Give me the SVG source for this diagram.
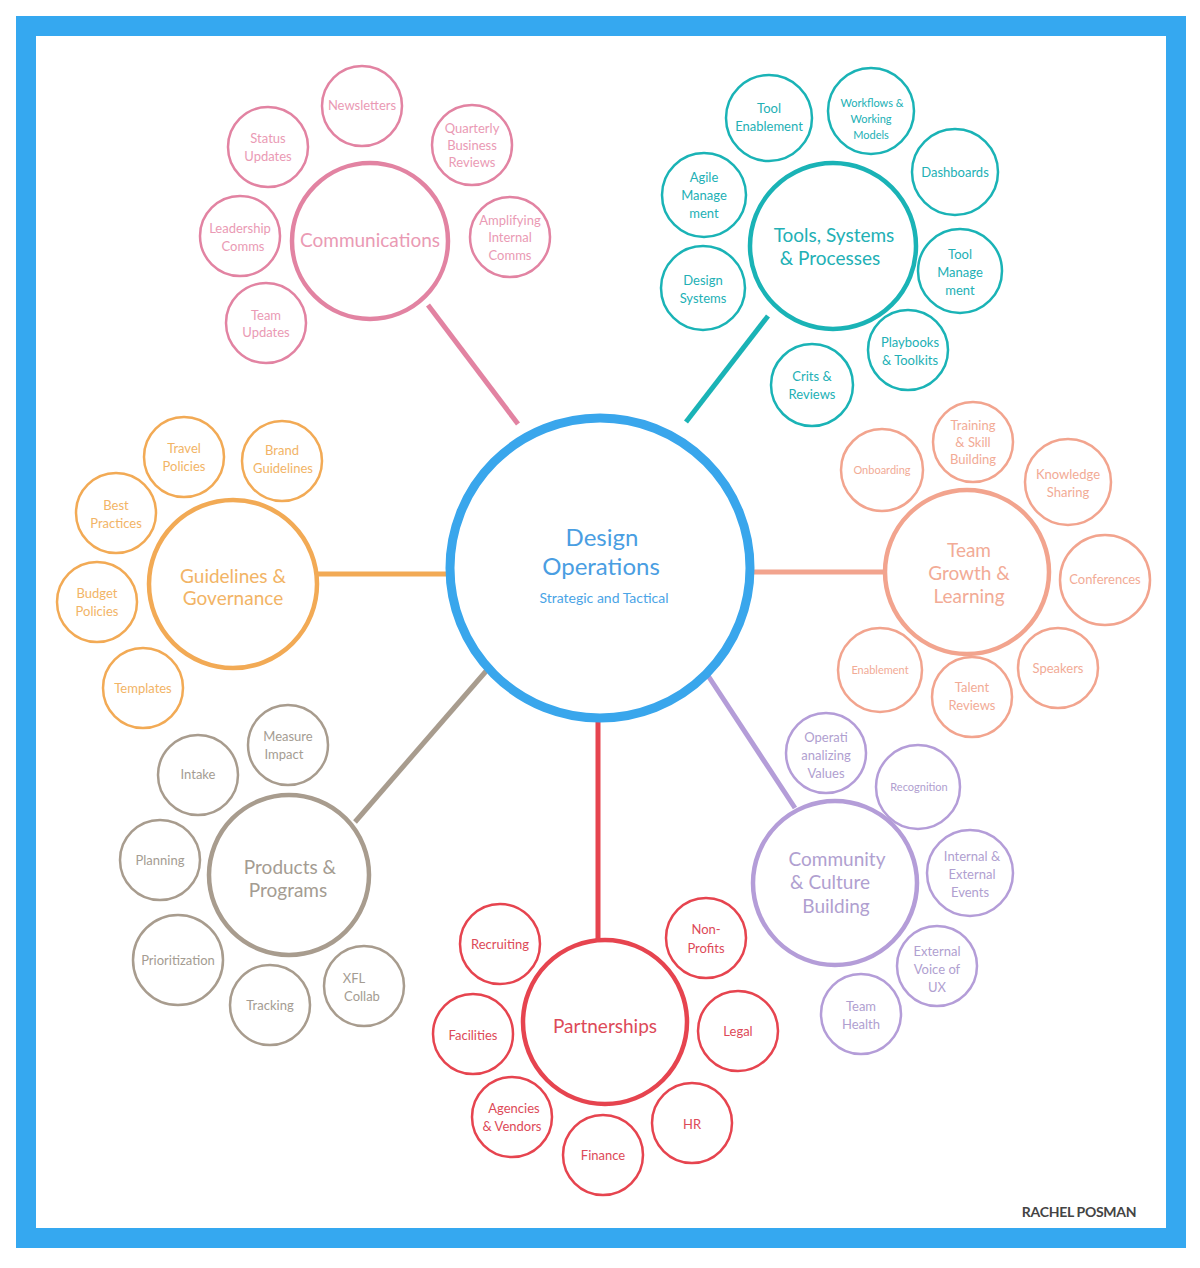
<svg xmlns="http://www.w3.org/2000/svg" width="1200" height="1268" viewBox="0 0 1200 1268">
<style>
text{font-family:Lato,"Noto Sans","Liberation Sans",sans-serif;text-anchor:middle;}
.s{font-size:13px;}
.m{font-size:19px;}
circle{fill:#fff;}
.sm{stroke-width:2.5;}
.mn{stroke-width:4.5;}
.link{stroke-width:5;fill:none;}
.pk{stroke:#e283a2;} .pkt{fill:#ea9ab4;}
.tl{stroke:#1ab3b6;} .tlt{fill:#22b0b5;}
.or{stroke:#f2aa55;} .ort{fill:#f2b466;}
.sa{stroke:#f2a48e;} .sat{fill:#f2ab96;}
.tp{stroke:#a89c8e;} .tpt{fill:#a49c92;}
.pu{stroke:#b49dd8;} .put{fill:#b0a0d0;}
.rd{stroke:#e6444f;} .rdt{fill:#dd4a58;}
</style>
<rect x="26" y="26" width="1150" height="1212" fill="#fff" stroke="#35a8f0" stroke-width="20"/>
<g id="connectors">
<line class="link pk" x1="428" y1="305" x2="518" y2="424"/>
<line class="link tl" x1="768" y1="316" x2="686" y2="422"/>
<line class="link or" x1="318" y1="574" x2="452" y2="574"/>
<line class="link sa" x1="748" y1="572" x2="885" y2="572"/>
<line class="link tp" x1="355" y1="822" x2="494" y2="662"/>
<line class="link pu" x1="703" y1="668" x2="795" y2="808"/>
<line class="link rd" x1="598" y1="705" x2="598" y2="942"/>
</g>
<g id="center">
<circle cx="600" cy="568" r="150" stroke="#39a6ec" stroke-width="9"/>
<text x="602" y="546" font-size="24" fill="#4a9ee2">Design</text>
<text x="601" y="575" font-size="24" fill="#4a9ee2">Operations</text>
<text x="604" y="603" font-size="14" fill="#4aa4e6">Strategic and Tactical</text>
</g>
<g id="communications">
<circle class="pk mn" cx="370" cy="241" r="78"/>
<text class="m pkt" x="370" y="247">Communications</text>
<g id="newsletters"><circle class="pk sm" cx="362" cy="106" r="40"/><text class="s pkt" x="362" y="110">Newsletters</text></g>
<g id="qbr"><circle class="pk sm" cx="472" cy="145" r="40"/><text class="s pkt" x="472" y="133">Quarterly</text><text class="s pkt" x="472" y="150">Business</text><text class="s pkt" x="472" y="167">Reviews</text></g>
<g id="amplifying"><circle class="pk sm" cx="510" cy="237" r="40"/><text class="s pkt" x="510" y="225">Amplifying</text><text class="s pkt" x="510" y="242">Internal</text><text class="s pkt" x="510" y="260">Comms</text></g>
<g id="status"><circle class="pk sm" cx="268" cy="147" r="40"/><text class="s pkt" x="268" y="143">Status</text><text class="s pkt" x="268" y="161">Updates</text></g>
<g id="leadership"><circle class="pk sm" cx="240" cy="236" r="40"/><text class="s pkt" x="240" y="233">Leadership</text><text class="s pkt" x="243" y="251">Comms</text></g>
<g id="teamupdates"><circle class="pk sm" cx="266" cy="323" r="40"/><text class="s pkt" x="266" y="320">Team</text><text class="s pkt" x="266" y="337">Updates</text></g>
</g>
<g id="tools">
<circle class="tl mn" cx="833" cy="246" r="83"/>
<text class="m tlt" x="834" y="242">Tools, Systems</text>
<text class="m tlt" x="830" y="265">&amp; Processes</text>
<g id="toolenable"><circle class="tl sm" cx="769" cy="118" r="43"/><text class="s tlt" x="769" y="113">Tool</text><text class="s tlt" x="769" y="131">Enablement</text></g>
<g id="workflows"><circle class="tl sm" cx="871" cy="111" r="43"/><text class="tlt" font-size="11" x="872" y="107">Workflows &amp;</text><text class="tlt" font-size="11" x="871" y="123">Working</text><text class="tlt" font-size="11" x="871" y="139">Models</text></g>
<g id="dashboards"><circle class="tl sm" cx="955" cy="172" r="43"/><text class="s tlt" x="955" y="177">Dashboards</text></g>
<g id="agile"><circle class="tl sm" cx="704" cy="195" r="42"/><text class="s tlt" x="704" y="182">Agile</text><text class="s tlt" x="704" y="200">Manage</text><text class="s tlt" x="704" y="218">ment</text></g>
<g id="toolmgmt"><circle class="tl sm" cx="960" cy="271" r="42"/><text class="s tlt" x="960" y="259">Tool</text><text class="s tlt" x="960" y="277">Manage</text><text class="s tlt" x="960" y="295">ment</text></g>
<g id="designsys"><circle class="tl sm" cx="703" cy="288" r="42"/><text class="s tlt" x="703" y="285">Design</text><text class="s tlt" x="703" y="303">Systems</text></g>
<g id="playbooks"><circle class="tl sm" cx="908" cy="350" r="40"/><text class="s tlt" x="910" y="347">Playbooks</text><text class="s tlt" x="910" y="365">&amp; Toolkits</text></g>
<g id="crits"><circle class="tl sm" cx="812" cy="385" r="41"/><text class="s tlt" x="812" y="381">Crits &amp;</text><text class="s tlt" x="812" y="399">Reviews</text></g>
</g>
<g id="guidelines">
<circle class="or mn" cx="233" cy="584" r="84"/>
<text class="m ort" x="233" y="583">Guidelines &amp;</text>
<text class="m ort" x="233" y="605">Governance</text>
<g id="travel"><circle class="or sm" cx="184" cy="457" r="40"/><text class="s ort" x="184" y="453">Travel</text><text class="s ort" x="184" y="471">Policies</text></g>
<g id="brand"><circle class="or sm" cx="282" cy="461" r="40"/><text class="s ort" x="282" y="455">Brand</text><text class="s ort" x="283" y="473">Guidelines</text></g>
<g id="best"><circle class="or sm" cx="116" cy="513" r="40"/><text class="s ort" x="116" y="510">Best</text><text class="s ort" x="116" y="528">Practices</text></g>
<g id="budget"><circle class="or sm" cx="97" cy="602" r="40"/><text class="s ort" x="97" y="598">Budget</text><text class="s ort" x="97" y="616">Policies</text></g>
<g id="templates"><circle class="or sm" cx="143" cy="688" r="40"/><text class="s ort" x="143" y="693">Templates</text></g>
</g>
<g id="teamgrowth">
<circle class="sa mn" cx="967" cy="572" r="82"/>
<text class="m sat" x="969" y="557">Team</text>
<text class="m sat" x="969" y="580">Growth &amp;</text>
<text class="m sat" x="969" y="603">Learning</text>
<g id="onboarding"><circle class="sa sm" cx="882" cy="470" r="41"/><text class="sat" font-size="11" x="882" y="474">Onboarding</text></g>
<g id="training"><circle class="sa sm" cx="973" cy="442" r="40"/><text class="s sat" x="973" y="430">Training</text><text class="s sat" x="973" y="447">&amp; Skill</text><text class="s sat" x="973" y="464">Building</text></g>
<g id="knowledge"><circle class="sa sm" cx="1068" cy="482" r="43"/><text class="s sat" x="1068" y="479">Knowledge</text><text class="s sat" x="1068" y="497">Sharing</text></g>
<g id="conferences"><circle class="sa sm" cx="1105" cy="580" r="45"/><text class="s sat" x="1105" y="584">Conferences</text></g>
<g id="enablement"><circle class="sa sm" cx="880" cy="670" r="42"/><text class="sat" font-size="11" x="880" y="674">Enablement</text></g>
<g id="talent"><circle class="sa sm" cx="972" cy="697" r="40"/><text class="s sat" x="972" y="692">Talent</text><text class="s sat" x="972" y="710">Reviews</text></g>
<g id="speakers"><circle class="sa sm" cx="1058" cy="668" r="40"/><text class="s sat" x="1058" y="673">Speakers</text></g>
</g>
<g id="products">
<circle class="tp mn" cx="289" cy="875" r="80"/>
<text class="m tpt" x="290" y="874">Products &amp;</text>
<text class="m tpt" x="288" y="897">Programs</text>
<g id="measure"><circle class="tp sm" cx="288" cy="745" r="40"/><text class="s tpt" x="288" y="741">Measure</text><text class="s tpt" x="284" y="759">Impact</text></g>
<g id="intake"><circle class="tp sm" cx="198" cy="775" r="40"/><text class="s tpt" x="198" y="779">Intake</text></g>
<g id="planning"><circle class="tp sm" cx="160" cy="860" r="40"/><text class="s tpt" x="160" y="865">Planning</text></g>
<g id="prioritization"><circle class="tp sm" cx="178" cy="960" r="45"/><text class="s tpt" x="178" y="965">Prioritization</text></g>
<g id="tracking"><circle class="tp sm" cx="270" cy="1005" r="40"/><text class="s tpt" x="270" y="1010">Tracking</text></g>
<g id="xfl"><circle class="tp sm" cx="364" cy="986" r="40"/><text class="s tpt" x="354" y="983">XFL</text><text class="s tpt" x="362" y="1001">Collab</text></g>
</g>
<g id="community">
<circle class="pu mn" cx="835" cy="883" r="82"/>
<text class="m put" x="837" y="866">Community</text>
<text class="m put" x="830" y="889">&amp; Culture</text>
<text class="m put" x="836" y="913">Building</text>
<g id="operational"><circle class="pu sm" cx="826" cy="753" r="40"/><text class="s put" x="826" y="742">Operati</text><text class="s put" x="826" y="760">analizing</text><text class="s put" x="826" y="778">Values</text></g>
<g id="recognition"><circle class="pu sm" cx="918" cy="787" r="42"/><text class="put" font-size="11" x="919" y="791">Recognition</text></g>
<g id="events"><circle class="pu sm" cx="970" cy="873" r="43"/><text class="s put" x="972" y="861">Internal &amp;</text><text class="s put" x="972" y="879">External</text><text class="s put" x="970" y="897">Events</text></g>
<g id="voice"><circle class="pu sm" cx="937" cy="966" r="40"/><text class="s put" x="937" y="956">External</text><text class="s put" x="937" y="974">Voice of</text><text class="s put" x="937" y="992">UX</text></g>
<g id="health"><circle class="pu sm" cx="861" cy="1014" r="40"/><text class="s put" x="861" y="1011">Team</text><text class="s put" x="861" y="1029">Health</text></g>
</g>
<g id="partnerships">
<circle class="rd mn" cx="605" cy="1022" r="82"/>
<text class="m rdt" x="605" y="1033">Partnerships</text>
<g id="recruiting"><circle class="rd sm" cx="500" cy="944" r="40"/><text class="s rdt" x="500" y="949">Recruiting</text></g>
<g id="nonprofits"><circle class="rd sm" cx="706" cy="938" r="40"/><text class="s rdt" x="706" y="934">Non-</text><text class="s rdt" x="706" y="953">Profits</text></g>
<g id="facilities"><circle class="rd sm" cx="473" cy="1034" r="40"/><text class="s rdt" x="473" y="1040">Facilities</text></g>
<g id="legal"><circle class="rd sm" cx="738" cy="1031" r="40"/><text class="s rdt" x="738" y="1036">Legal</text></g>
<g id="agencies"><circle class="rd sm" cx="512" cy="1117" r="40"/><text class="s rdt" x="514" y="1113">Agencies</text><text class="s rdt" x="512" y="1131">&amp; Vendors</text></g>
<g id="hr"><circle class="rd sm" cx="692" cy="1123" r="40"/><text class="s rdt" x="692" y="1129">HR</text></g>
<g id="finance"><circle class="rd sm" cx="603" cy="1155" r="40"/><text class="s rdt" x="603" y="1160">Finance</text></g>
</g>
<text x="1079" y="1217" font-size="14" font-weight="bold" fill="#444" letter-spacing="-0.3">RACHEL POSMAN</text>
</svg>
